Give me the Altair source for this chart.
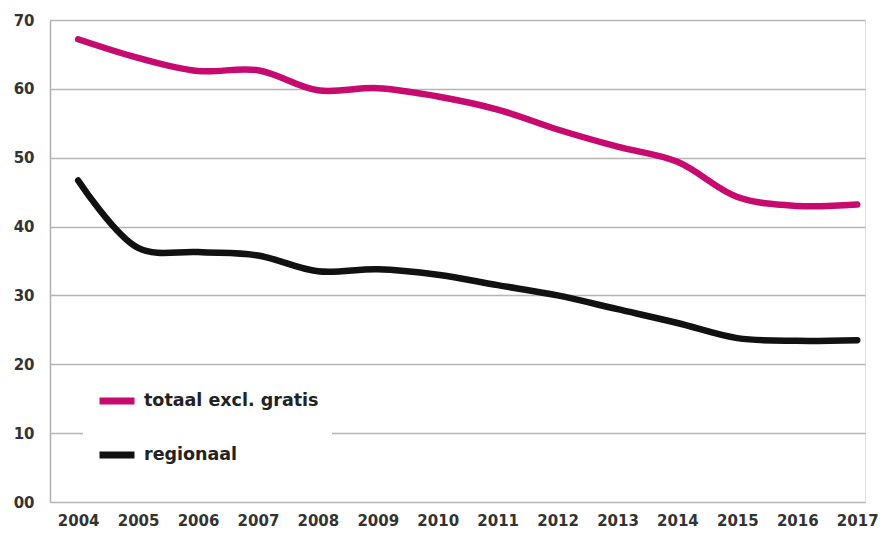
import altair as alt
import pandas as pd

years = list(range(2004, 2018))
totaal = [67.2, 64.5, 62.6, 62.7, 59.8, 60.1, 58.9, 57.0, 54.1, 51.6, 49.4, 44.3, 43.0, 43.2]
regionaal = [46.7, 36.9, 36.3, 35.8, 33.5, 33.8, 33.0, 31.5, 30.0, 28.0, 26.0, 23.8, 23.4, 23.5]
series_names = ["totaal excl. gratis", "regionaal"]
series_colors = ["#c60a6f", "#111111"]
y_ticks = [0, 10, 20, 30, 40, 50, 60, 70]

rows = []
for name, vals in zip(series_names, [totaal, regionaal]):
    for yr, v in zip(years, vals):
        rows.append({"year": yr, "value": v, "series": name})
df = pd.DataFrame(rows)

font = "DejaVu Sans"

chart = alt.Chart(df).mark_line(
    interpolate="catmull-rom", strokeWidth=6.5, strokeCap="round", strokeJoin="round"
).encode(
    x=alt.X(
        "year:Q",
        scale=alt.Scale(domain=[2003.53, 2017.13], nice=False, zero=False),
        axis=alt.Axis(
            values=years, format="d", title=None, grid=False, ticks=False, domain=False,
            labelFont=font, labelFontWeight="bold", labelFontSize=15, labelColor="#333333",
            labelPadding=11, labelFlush=False, labelOverlap=False,
        ),
    ),
    y=alt.Y(
        "value:Q",
        scale=alt.Scale(domain=[0, 70], nice=False),
        axis=alt.Axis(
            values=y_ticks, format="02d", title=None, ticks=False,
            grid=True, gridColor="#b5b5b5", gridWidth=1.5,
            domain=True, domainColor="#b0b0b0", domainWidth=1.5,
            labelFont=font, labelFontWeight="bold", labelFontSize=15, labelColor="#333333",
            labelPadding=16,
        ),
    ),
    color=alt.Color(
        "series:N",
        scale=alt.Scale(domain=series_names, range=series_colors),
        sort=series_names,
        legend=alt.Legend(
            title=None, orient="none", legendX=33, legendY=347,
            fillColor="white", padding=13,
            symbolType="stroke", symbolStrokeWidth=7, symbolSize=1225,
            labelFont=font, labelFontWeight="bold", labelFontSize=17.5,
            labelColor="#222222", labelLimit=400, labelOffset=6, rowPadding=19,
        ),
    ),
).properties(
    width=815,
    height=482,
    padding={"left": 42, "top": 12, "right": 15, "bottom": 27},
    autosize=alt.AutoSizeParams(type="none"),
).configure_view(strokeWidth=0).configure(background="white")

chart.save("out.html", embed_options={"renderer": "svg", "actions": False})
